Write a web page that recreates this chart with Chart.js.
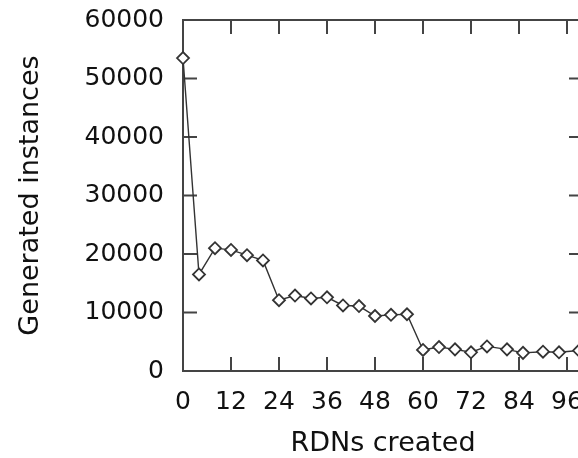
<!DOCTYPE html>
<html>
<head>
<meta charset="utf-8">
<script src="https://cdn.jsdelivr.net/npm/chart.js@4/dist/chart.umd.min.js"></script>
<style>
  html, body { margin: 0; padding: 0; background: #fff; overflow: hidden; }
  #wrap { width: 600px; height: 458px; }
</style>
</head>
<body>
<div id="wrap"><canvas id="rdnChart" width="600" height="458"></canvas></div>
<script>
// RDNs created vs. generated instances
const rdns = [0, 4, 8, 12, 16, 20, 24, 28, 32, 36, 40, 44, 48, 52, 56,
              60, 64, 68, 72, 76, 81, 85, 90, 94, 99];
const instances = [53500, 16500, 21000, 20700, 19800, 18900, 12100, 12900, 12400, 12600,
                   11200, 11100, 9400, 9600, 9700,
                   3600, 4100, 3700, 3200, 4200, 3700, 3100, 3300, 3200, 3500];
const xTicks = [0, 12, 24, 36, 48, 60, 72, 84, 96];
const yTicks = [0, 10000, 20000, 30000, 40000, 50000, 60000];

const ink = '#333';
const textColor = '#111';
const fontFamily = '"DejaVu Sans", sans-serif';

// box around the plot with short inward ticks on all four sides
const framePlugin = {
    id: 'frame',
    beforeDatasetsDraw(chart) {
        const { ctx, chartArea: a, scales: { x, y } } = chart;
        const len = 14;
        ctx.save();
        ctx.strokeStyle = '#444';
        ctx.lineWidth = 2;
        ctx.beginPath();
        ctx.rect(a.left, a.top, a.right - a.left, a.bottom - a.top);
        xTicks.forEach(v => {
            const px = x.getPixelForValue(v);
            ctx.moveTo(px, a.bottom); ctx.lineTo(px, a.bottom - len);
            ctx.moveTo(px, a.top); ctx.lineTo(px, a.top + len);
        });
        yTicks.forEach(v => {
            const py = y.getPixelForValue(v);
            ctx.moveTo(a.left, py); ctx.lineTo(a.left + len, py);
            ctx.moveTo(a.right, py); ctx.lineTo(a.right - len, py);
        });
        ctx.stroke();
        ctx.restore();
    }
};

const ctx = document.getElementById('rdnChart').getContext('2d');
const rdnChart = new Chart(ctx, {
    type: 'line',
    data: {
        datasets: [{
            label: 'Generated instances',
            data: rdns.map((r, i) => ({ x: r, y: instances[i] })),
            borderColor: ink,
            borderWidth: 1.4,
            pointStyle: 'rectRot',
            pointRadius: 6,
            pointBorderWidth: 1.8,
            pointBorderColor: ink,
            pointBackgroundColor: '#fff',
            tension: 0,
            clip: false
        }]
    },
    options: {
        responsive: false,
        animation: false,
        layout: { padding: { top: 20, right: 17, left: 0, bottom: 0 } },
        plugins: { legend: { display: false }, tooltip: { enabled: false } },
        scales: {
            x: {
                type: 'linear',
                min: 0,
                max: 100,
                afterBuildTicks: s => { s.ticks = xTicks.map(v => ({ value: v })); },
                afterFit: s => { s.height = 87; s.paddingLeft = 0; s.paddingRight = 0; },
                grid: { display: false, drawTicks: false },
                border: { display: false },
                ticks: {
                    padding: 16,
                    maxRotation: 0,
                    color: textColor,
                    font: { family: fontFamily, size: 25 }
                },
                title: {
                    display: true,
                    text: 'RDNs created',
                    color: textColor,
                    padding: { top: 0, bottom: -2 },
                    font: { family: fontFamily, size: 27 }
                }
            },
            y: {
                min: 0,
                max: 60000,
                afterBuildTicks: s => { s.ticks = yTicks.map(v => ({ value: v })); },
                afterFit: s => { s.width = 183; s.paddingTop = 0; s.paddingBottom = 0; },
                grid: { display: false, drawTicks: false },
                border: { display: false },
                ticks: {
                    padding: 19,
                    color: textColor,
                    font: { family: fontFamily, size: 25 },
                    callback: v => String(v)
                },
                title: {
                    display: true,
                    text: 'Generated instances',
                    color: textColor,
                    padding: { top: 15, bottom: 0 },
                    font: { family: fontFamily, size: 27 }
                }
            }
        }
    },
    plugins: [framePlugin]
});
</script>
</body>
</html>
